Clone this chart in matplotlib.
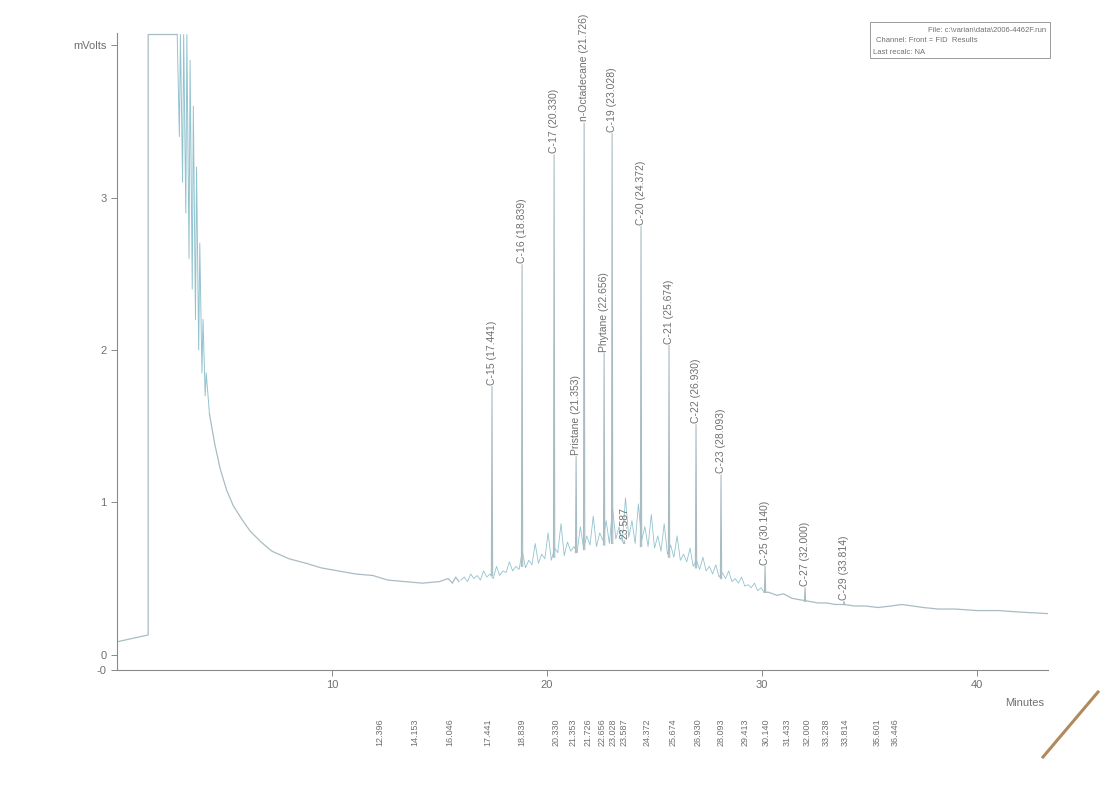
import matplotlib
matplotlib.use("Agg")
import matplotlib.pyplot as plt
from matplotlib.lines import Line2D
from matplotlib.patches import Rectangle

plt.rcParams['font.family'] = ['Liberation Sans', 'DejaVu Sans']

# --- trace (minutes, mVolts) ---
front_t = [0.0, 1.45, 1.45, 2.80]
front_v = [0.085, 0.13, 4.07, 4.07]

# noisy solvent tail (dense band of spikes)
tail_t = [2.80, 2.90, 2.95, 3.05, 3.10, 3.20, 3.25, 3.35, 3.40, 3.50, 3.55, 3.65, 3.70, 3.80,
          3.85, 3.95, 4.00, 4.10, 4.15, 4.30]
tail_v = [4.07, 3.40, 4.07, 3.10, 4.07, 2.90, 4.07, 2.60, 3.90, 2.40, 3.60, 2.20, 3.20, 2.00,
          2.70, 1.85, 2.20, 1.70, 1.85, 1.58]

decay_t = [4.30, 4.55, 4.80, 5.10, 5.40, 5.80, 6.20, 6.70, 7.20, 8.00, 8.80, 9.50, 10.30, 11.10,
           11.90, 12.60, 13.40, 14.20, 15.00, 15.40, 15.60, 15.75, 15.90]
decay_v = [1.58, 1.38, 1.22, 1.08, 0.98, 0.89, 0.81, 0.74, 0.68, 0.63, 0.60, 0.57, 0.55, 0.53,
           0.52, 0.49, 0.48, 0.47, 0.48, 0.50, 0.47, 0.51, 0.48]

# unresolved hump between ~16 and 30 min
hump_t = [16.00, 16.15, 16.30, 16.45, 16.60, 16.75, 16.90, 17.05, 17.20, 17.35, 17.50, 17.65, 17.80, 17.95,
          18.10, 18.25, 18.40, 18.55, 18.70, 18.85, 19.00, 19.15, 19.30, 19.45, 19.60, 19.75, 19.90, 20.05,
          20.20, 20.35, 20.50, 20.65, 20.80, 20.95, 21.10, 21.25, 21.40, 21.55, 21.70, 21.85, 22.00, 22.15,
          22.30, 22.45, 22.60, 22.75, 22.90, 23.05, 23.20, 23.35, 23.50, 23.65, 23.80, 23.95, 24.10, 24.25,
          24.40, 24.55, 24.70, 24.85, 25.00, 25.15, 25.30, 25.45, 25.60, 25.75, 25.90, 26.05, 26.20, 26.35,
          26.50, 26.65, 26.80, 26.95, 27.10, 27.25, 27.40, 27.55, 27.70, 27.85, 28.00, 28.15, 28.30, 28.45,
          28.60, 28.75, 28.90, 29.05, 29.20, 29.35, 29.50, 29.65, 29.80, 29.95, 30.10]
hump_v = [0.49, 0.51, 0.48, 0.53, 0.50, 0.52, 0.49, 0.55, 0.51, 0.53, 0.50, 0.58, 0.52, 0.55,
          0.54, 0.61, 0.55, 0.58, 0.56, 0.68, 0.57, 0.62, 0.59, 0.73, 0.60, 0.66, 0.63, 0.80,
          0.62, 0.70, 0.67, 0.86, 0.65, 0.74, 0.68, 0.71, 0.67, 0.84, 0.70, 0.78, 0.72, 0.91,
          0.71, 0.80, 0.75, 0.88, 0.73, 0.96, 0.76, 0.84, 0.74, 1.03, 0.77, 0.88, 0.73, 0.99,
          0.75, 0.84, 0.71, 0.92, 0.70, 0.78, 0.68, 0.86, 0.66, 0.72, 0.64, 0.78, 0.62, 0.66,
          0.61, 0.70, 0.58, 0.62, 0.56, 0.64, 0.55, 0.58, 0.53, 0.59, 0.51, 0.54, 0.50, 0.55,
          0.48, 0.50, 0.47, 0.51, 0.45, 0.46, 0.44, 0.47, 0.42, 0.44, 0.41]

late_t = [30.3, 30.7, 31.0, 31.4, 31.8, 32.2, 32.6, 33.0, 33.4, 33.8, 34.3, 34.8, 35.4, 36.0,
          36.5, 37.0, 37.5, 38.2, 39.0, 40.0, 41.0, 42.0, 43.3]
late_v = [0.41, 0.39, 0.40, 0.37, 0.36, 0.35, 0.34, 0.34, 0.33, 0.33, 0.32, 0.32, 0.31, 0.32,
          0.33, 0.32, 0.31, 0.30, 0.30, 0.29, 0.29, 0.28, 0.27]

# labelled peaks
peak_names = ['C-15', 'C-16', 'C-17', 'Pristane', 'n-Octadecane', 'Phytane', 'C-19', '',
              'C-20', 'C-21', 'C-22', 'C-23', 'C-25', 'C-27', 'C-29']
peak_times = [17.441, 18.839, 20.330, 21.353, 21.726, 22.656, 23.028, 23.587,
              24.372, 25.674, 26.930, 28.093, 30.140, 32.000, 33.814]
peak_tops = [1.76, 2.56, 3.28, 1.30, 3.49, 1.98, 3.42, 0.75,
             2.81, 2.03, 1.51, 1.18, 0.58, 0.44, 0.35]
peak_bases = [0.52, 0.58, 0.64, 0.67, 0.69, 0.72, 0.73, 0.73,
              0.71, 0.64, 0.57, 0.50, 0.41, 0.35, 0.33]

# retention time list printed under the axis
rt_list = [12.396, 14.153, 16.046, 17.441, 18.839, 20.330, 21.353, 21.726, 22.656, 23.028, 23.587,
           24.372, 25.674, 26.930, 28.093, 29.413, 30.140, 31.433, 32.000, 33.238, 33.814, 35.601, 36.446]
rt_px = [380, 415, 450, 488, 522, 556, 573, 588, 602, 613, 624, 647, 673, 698, 721, 745, 766,
         787, 807, 826, 845, 877, 895]

W, H = 1108, 787
trace_col = '#a9bcc2'
noise_col = '#93c3cf'
txt_col = '#707070'

fig = plt.figure(figsize=(W / 100, H / 100), dpi=100)
ax = fig.add_axes([117 / W, 1 - 670 / H, (1048 - 117) / W, (670 - 33) / H])
ax.set_xlim(0, 43.3)
ax.set_ylim(-0.1, 4.08)

ax.plot(front_t, front_v, color=trace_col, lw=0.9)
ax.plot(tail_t, tail_v, color=noise_col, lw=0.7)
ax.plot(decay_t, decay_v, color=trace_col, lw=0.9)
ax.plot(hump_t, hump_v, color=noise_col, lw=0.6)
ax.plot([hump_t[-1]] + late_t, [hump_v[-1]] + late_v, color=trace_col, lw=0.9)

for name, t, top, base in zip(peak_names, peak_times, peak_tops, peak_bases):
    ax.plot([t - 0.03, t, t + 0.03], [base, top, base], color=trace_col, lw=0.8)
    lab = f"{name} ({t:.3f})" if name else f"{t:.3f}"
    ax.text(t, top + 0.01, lab, rotation=90, ha='center', va='bottom',
            fontsize=7.5, color=txt_col)

for s in ['top', 'right']:
    ax.spines[s].set_visible(False)
for s in ['left', 'bottom']:
    ax.spines[s].set_color('#8a8a8a')
    ax.spines[s].set_linewidth(0.8)

ax.set_yticks([-0.1, 0, 1, 2, 3, 4])
ax.set_yticklabels(['-0', '0', '1', '2', '3', 'mVolts'])
ax.set_xticks([10, 20, 30, 40])
ax.set_xticklabels(['10', '20', '30', '40'])
ax.tick_params(colors='#8a8a8a', labelcolor=txt_col, labelsize=8, length=4, width=0.7)

fig.text(1025 / W, 1 - 703 / H, 'Minutes', fontsize=8, color=txt_col, ha='center', va='center')

for rt, px in zip(rt_list, rt_px):
    fig.text(px / W, 1 - 732 / H, f"{rt:.3f}", rotation=90, fontsize=6.5,
             color=txt_col, ha='center', va='center')

# info box top right
fig.add_artist(Rectangle((870 / W, 1 - 58 / H), 180 / W, 36 / H, transform=fig.transFigure,
                         fill=False, edgecolor='#9a9a9a', lw=0.7))
fig.text(1046 / W, 1 - 30 / H, r'File: c:\varian\data\2006-4462F.run', fontsize=5.5,
         color=txt_col, ha='right', va='center')
fig.text(876 / W, 1 - 41 / H, 'Channel: Front = FID  Results', fontsize=5.5,
         color=txt_col, ha='left', va='center')
fig.text(873 / W, 1 - 52 / H, 'Last recalc: NA', fontsize=5.5,
         color=txt_col, ha='left', va='center')

# pen stroke on the scan
fig.add_artist(Line2D([1043 / W, 1098 / W], [1 - 757 / H, 1 - 692 / H], transform=fig.transFigure,
                      color='#a27440', lw=2.2, alpha=0.85))

fig.savefig('out.png', dpi=100, facecolor='white')
